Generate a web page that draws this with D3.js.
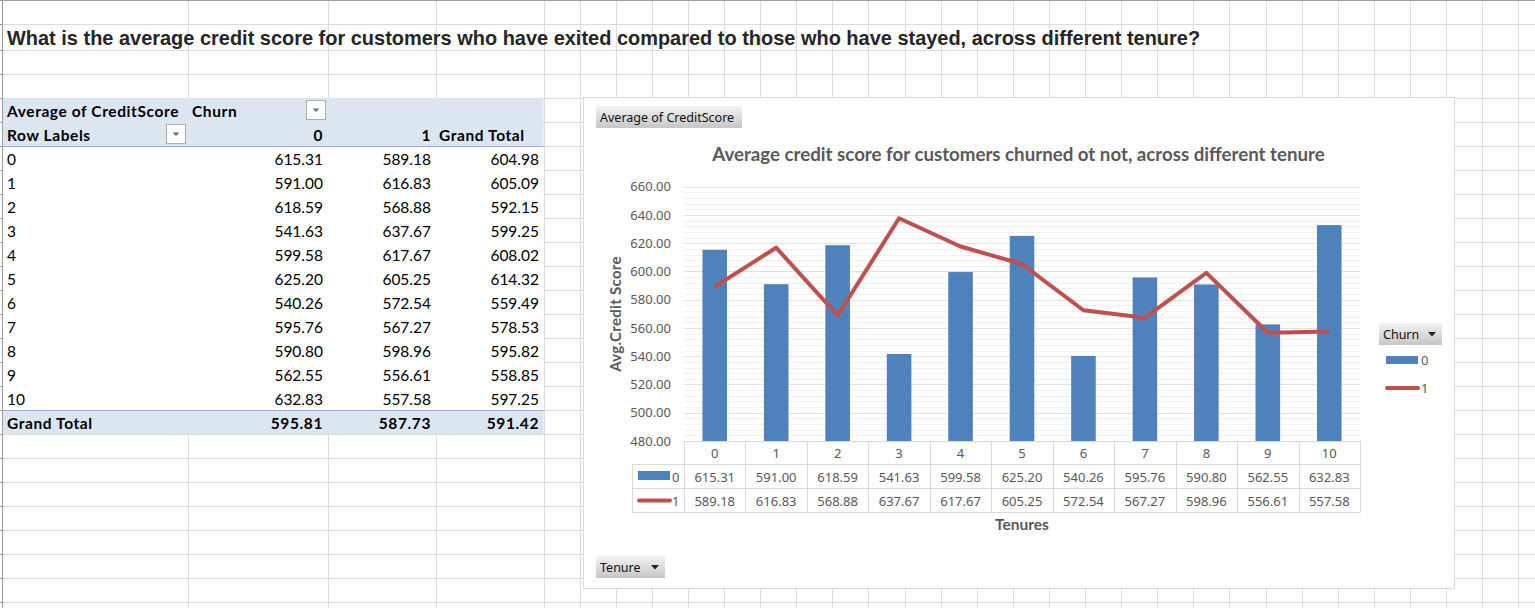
<!DOCTYPE html>
<html>
<head>
<meta charset="utf-8">
<script src="https://cdn.jsdelivr.net/npm/d3@7/dist/d3.min.js"></script>
<style>
  body { margin: 0; background: #fff; overflow: hidden; }
</style>
</head>
<body>
<svg id="sheet" width="1535" height="608" font-family="'Noto Sans', sans-serif"></svg>
<script>
var tenures = [0, 1, 2, 3, 4, 5, 6, 7, 8, 9, 10];
var stayed = [615.31, 591.00, 618.59, 541.63, 599.58, 625.20, 540.26, 595.76, 590.80, 562.55, 632.83]; // churn 0
var exited = [589.18, 616.83, 568.88, 637.67, 617.67, 605.25, 572.54, 567.27, 598.96, 556.61, 557.58]; // churn 1
var grandTotal = [604.98, 605.09, 592.15, 599.25, 608.02, 614.32, 559.49, 578.53, 595.82, 558.85, 597.25];
var totalRow = [595.81, 587.73, 591.42];
var churnKeys = ["0", "1"];
var yTicks = [480, 500, 520, 540, 560, 580, 600, 620, 640, 660];

var question = "What is the average credit score for customers who have exited compared to those who have stayed, across different tenure?";
var chartTitle = "Average credit score for customers churned ot not, across different tenure";

var svg = d3.select("#sheet");
var fmt = d3.format(".2f");
var calibri = "Lato, 'Noto Sans', sans-serif";

// fit a text node to a width by changing font size
function fitWidth(sel, w) {
  var n = sel.node();
  var fs = parseFloat(sel.attr("font-size"));
  var len = n.getComputedTextLength();
  sel.attr("font-size", (fs * w / len).toFixed(2));
}

// ---- spreadsheet grid ----
var defs = svg.append("defs");
var g1 = defs.append("linearGradient").attr("id", "btn").attr("x1", 0).attr("y1", 0).attr("x2", 0).attr("y2", 1);
g1.append("stop").attr("offset", "0%").attr("stop-color", "#f3f3f3");
g1.append("stop").attr("offset", "100%").attr("stop-color", "#c6c6c6");

var colEdges = [187.5, 327.5, 435.5, 543.5];
for (var c = 1; 543.5 + c * 36.1 < 1535; c++) colEdges.push(543.5 + c * 36.1);
var rowEdges = [24.5, 50.5];
for (var r = 1; 50.5 + r * 24 < 608; r++) rowEdges.push(50.5 + r * 24);

var grid = svg.append("g").attr("class", "grid");
grid.selectAll("line.v").data(colEdges).enter().append("line")
  .attr("class", "v")
  .attr("x1", function(d) { return Math.round(d) + 0.5; })
  .attr("x2", function(d) { return Math.round(d) + 0.5; })
  .attr("y1", 0).attr("y2", 608)
  .attr("stroke", "#dadcdd");
grid.selectAll("line.h").data(rowEdges).enter().append("line")
  .attr("class", "h")
  .attr("x1", 3).attr("x2", 1535)
  .attr("y1", function(d) { return d; }).attr("y2", function(d) { return d; })
  .attr("stroke", "#dadcdd");
// sheet frame (header edges)
svg.append("line").attr("x1", 0).attr("x2", 1535).attr("y1", 0.5).attr("y2", 0.5).attr("stroke", "#9e9e9e");
svg.append("line").attr("x1", 2.5).attr("x2", 2.5).attr("y1", 0).attr("y2", 608).attr("stroke", "#9e9e9e");
grid.selectAll("line.t").data(rowEdges).enter().append("line")
  .attr("x1", 0).attr("x2", 3)
  .attr("y1", function(d) { return d; }).attr("y2", function(d) { return d; })
  .attr("stroke", "#9e9e9e");

// ---- question ----
var q = svg.append("text")
  .attr("x", 7).attr("y", 45)
  .attr("font-family", "'Liberation Sans', Arial, sans-serif")
  .attr("font-weight", "bold").attr("font-size", 19)
  .attr("fill", "#262626")
  .text(question);
fitWidth(q, 1194);

// ---- pivot table ----
var pv = svg.append("g").attr("class", "pivot");
pv.append("rect").attr("x", 3).attr("y", 98).attr("width", 540.5).attr("height", 48).attr("fill", "#dce6f1");
pv.append("rect").attr("x", 3).attr("y", 147).attr("width", 540.5).attr("height", 263).attr("fill", "#fff");
pv.append("rect").attr("x", 3).attr("y", 410).attr("width", 540.5).attr("height", 24).attr("fill", "#dce6f1");
pv.append("line").attr("x1", 3).attr("x2", 543.5).attr("y1", 146.5).attr("y2", 146.5).attr("stroke", "#95b3d7");
pv.append("line").attr("x1", 3).attr("x2", 543.5).attr("y1", 410.5).attr("y2", 410.5).attr("stroke", "#95b3d7");

function cell(x, y, txt, anchor, bold) {
  var t = pv.append("text")
    .attr("x", x).attr("y", y)
    .attr("text-anchor", anchor || "start")
    .attr("font-family", calibri)
    .attr("font-size", 15.5)
    .attr("font-weight", bold ? "bold" : "normal")
    .attr("fill", "#000")
    .text(txt);
  if (bold) t.attr("letter-spacing", 0.6);
  return t;
}
function dropBox(x, y) {
  var b = pv.append("g").attr("transform", "translate(" + x + "," + y + ")");
  b.append("rect").attr("x", 0.5).attr("y", 0.5).attr("width", 19).attr("height", 19)
    .attr("fill", "#fff").attr("stroke", "#acacac");
  b.append("path").attr("d", "M6.5,8.5 L13.5,8.5 L10,12 Z").attr("fill", "#707070");
}

cell(7, 117, "Average of CreditScore", "start", true);
cell(192, 117, "Churn", "start", true);
dropBox(306, 100);
cell(7, 141, "Row Labels", "start", true);
dropBox(166, 124);
cell(323, 141, churnKeys[0], "end", true);
cell(431, 141, churnKeys[1], "end", true);
cell(439, 141, "Grand Total", "start", true);

tenures.forEach(function(t, i) {
  var yy = 165 + i * 24;
  cell(7, yy, String(t));
  cell(323, yy, fmt(stayed[i]), "end");
  cell(431, yy, fmt(exited[i]), "end");
  cell(539, yy, fmt(grandTotal[i]), "end");
});
cell(7, 429, "Grand Total", "start", true);
cell(323, 429, fmt(totalRow[0]), "end", true);
cell(431, 429, fmt(totalRow[1]), "end", true);
cell(539, 429, fmt(totalRow[2]), "end", true);

// ---- pivot chart ----
var ch = svg.append("g").attr("class", "chart");
ch.append("rect").attr("x", 583.5).attr("y", 97.5).attr("width", 871).attr("height", 491)
  .attr("fill", "#fff").attr("stroke", "#d9d9d9");

function button(x, y, w, label, arrow) {
  var b = ch.append("g").attr("transform", "translate(" + x + "," + y + ")");
  b.append("rect").attr("width", w).attr("height", 22).attr("fill", "url(#btn)");
  b.append("text").attr("x", 4).attr("y", 15.5)
    .attr("font-size", 12.5).attr("fill", "#111").text(label);
  if (arrow) {
    b.append("path").attr("d", "M" + (w - 14) + ",9 L" + (w - 6) + ",9 L" + (w - 10) + ",13.5 Z").attr("fill", "#222");
  }
}
button(596, 106, 146, "Average of CreditScore", false);
button(596, 556, 69, "Tenure", true);
button(1379, 323, 63, "Churn", true);

var ct = ch.append("text")
  .attr("x", 1018.5).attr("y", 161)
  .attr("text-anchor", "middle")
  .attr("font-family", calibri)
  .attr("font-weight", "bold").attr("font-size", 17)
  .attr("fill", "#595959")
  .text(chartTitle);
fitWidth(ct, 613);

var x = d3.scaleBand().domain(tenures).range([684, 1360]).paddingInner(0.6).paddingOuter(0.3);
var y = d3.scaleLinear().domain([yTicks[0], yTicks[yTicks.length - 1]]).range([441, 186.7]);
var step = x.step();
var left = 684, right = 1360;

// gridlines: minor every 4, major at ticks
ch.append("g").selectAll("line").data(d3.range(yTicks[0], yTicks[yTicks.length - 1] + 1, 4)).enter().append("line")
  .attr("x1", left).attr("x2", right)
  .attr("y1", function(d) { return Math.round(y(d)) + 0.5; })
  .attr("y2", function(d) { return Math.round(y(d)) + 0.5; })
  .attr("stroke", function(d) { return d % 20 === 0 ? "#e2e2e2" : "#f1f1f1"; });

// y axis
var yAxis = ch.append("g").attr("transform", "translate(678,0)")
  .call(d3.axisLeft(y).tickValues(yTicks).tickFormat(fmt).tickSize(0).tickPadding(7));
yAxis.select(".domain").remove();
yAxis.selectAll("text").attr("font-family", "'Noto Sans', sans-serif").attr("font-size", 13).attr("fill", "#595959");

ch.append("text")
  .attr("transform", "translate(621,314) rotate(-90)")
  .attr("text-anchor", "middle")
  .attr("font-family", calibri).attr("font-weight", "bold").attr("font-size", 15)
  .attr("letter-spacing", 0.3)
  .attr("fill", "#595959")
  .text("Avg.Credit Score");

// bars (churn 0)
ch.append("g").selectAll("rect").data(stayed).enter().append("rect")
  .attr("x", function(d, i) { return x(tenures[i]); })
  .attr("y", function(d) { return y(d); })
  .attr("width", x.bandwidth())
  .attr("height", function(d) { return y(yTicks[0]) - y(d); })
  .attr("fill", "#4f81bd");

// line (churn 1)
var line = d3.line()
  .x(function(d, i) { return x(tenures[i]) + x.bandwidth() / 2; })
  .y(function(d) { return y(d); });
ch.append("path").datum(exited)
  .attr("d", line)
  .attr("fill", "none").attr("stroke", "#c0504d").attr("stroke-width", 4)
  .attr("stroke-linejoin", "round");

// data table under the plot
var tb = ch.append("g").attr("class", "datatable");
var rowsY = [441.5, 464.5, 488.5, 512.5];
tb.selectAll("line.h").data(rowsY).enter().append("line")
  .attr("x1", function(d, i) { return i === 0 ? left : 632; })
  .attr("x2", right)
  .attr("y1", function(d) { return d; }).attr("y2", function(d) { return d; })
  .attr("stroke", "#d9d9d9");
var vEdges = tenures.map(function(t, i) { return left + i * step; }).concat([right]);
tb.selectAll("line.v").data(vEdges).enter().append("line")
  .attr("x1", function(d) { return Math.round(d) + 0.5; })
  .attr("x2", function(d) { return Math.round(d) + 0.5; })
  .attr("y1", 441).attr("y2", 512.5)
  .attr("stroke", "#d9d9d9");
tb.append("line").attr("x1", 632.5).attr("x2", 632.5).attr("y1", 464).attr("y2", 512.5).attr("stroke", "#d9d9d9");

function tcell(cx, cy, txt) {
  tb.append("text").attr("x", cx).attr("y", cy)
    .attr("text-anchor", "middle").attr("dominant-baseline", "central")
    .attr("font-size", 13).attr("fill", "#595959").text(txt);
}
tenures.forEach(function(t, i) {
  var cx = x(t) + x.bandwidth() / 2;
  tcell(cx, 453, String(t));
  tcell(cx, 476.5, fmt(stayed[i]));
  tcell(cx, 500.5, fmt(exited[i]));
});
// keys in the table
tb.append("rect").attr("x", 638).attr("y", 471).attr("width", 32).attr("height", 9).attr("fill", "#4f81bd");
tb.append("text").attr("x", 672).attr("y", 476.5).attr("dominant-baseline", "central")
  .attr("font-size", 13).attr("fill", "#595959").text(churnKeys[0]);
tb.append("line").attr("x1", 639).attr("x2", 670).attr("y1", 500.5).attr("y2", 500.5)
  .attr("stroke", "#c0504d").attr("stroke-width", 4).attr("stroke-linecap", "round");
tb.append("text").attr("x", 672).attr("y", 500.5).attr("dominant-baseline", "central")
  .attr("font-size", 13).attr("fill", "#595959").text(churnKeys[1]);

ch.append("text")
  .attr("x", 1022).attr("y", 530)
  .attr("text-anchor", "middle")
  .attr("font-family", calibri).attr("font-weight", "bold").attr("font-size", 15.5)
  .attr("fill", "#595959")
  .text("Tenures");

// legend
var lg = ch.append("g").attr("class", "legend");
lg.append("rect").attr("x", 1386).attr("y", 356).attr("width", 32).attr("height", 8).attr("fill", "#4f81bd");
lg.append("text").attr("x", 1421).attr("y", 360).attr("dominant-baseline", "central")
  .attr("font-size", 13).attr("fill", "#595959").text(churnKeys[0]);
lg.append("line").attr("x1", 1387).attr("x2", 1418).attr("y1", 388).attr("y2", 388)
  .attr("stroke", "#c0504d").attr("stroke-width", 4).attr("stroke-linecap", "round");
lg.append("text").attr("x", 1421).attr("y", 388).attr("dominant-baseline", "central")
  .attr("font-size", 13).attr("fill", "#595959").text(churnKeys[1]);
</script>
</body>
</html>
